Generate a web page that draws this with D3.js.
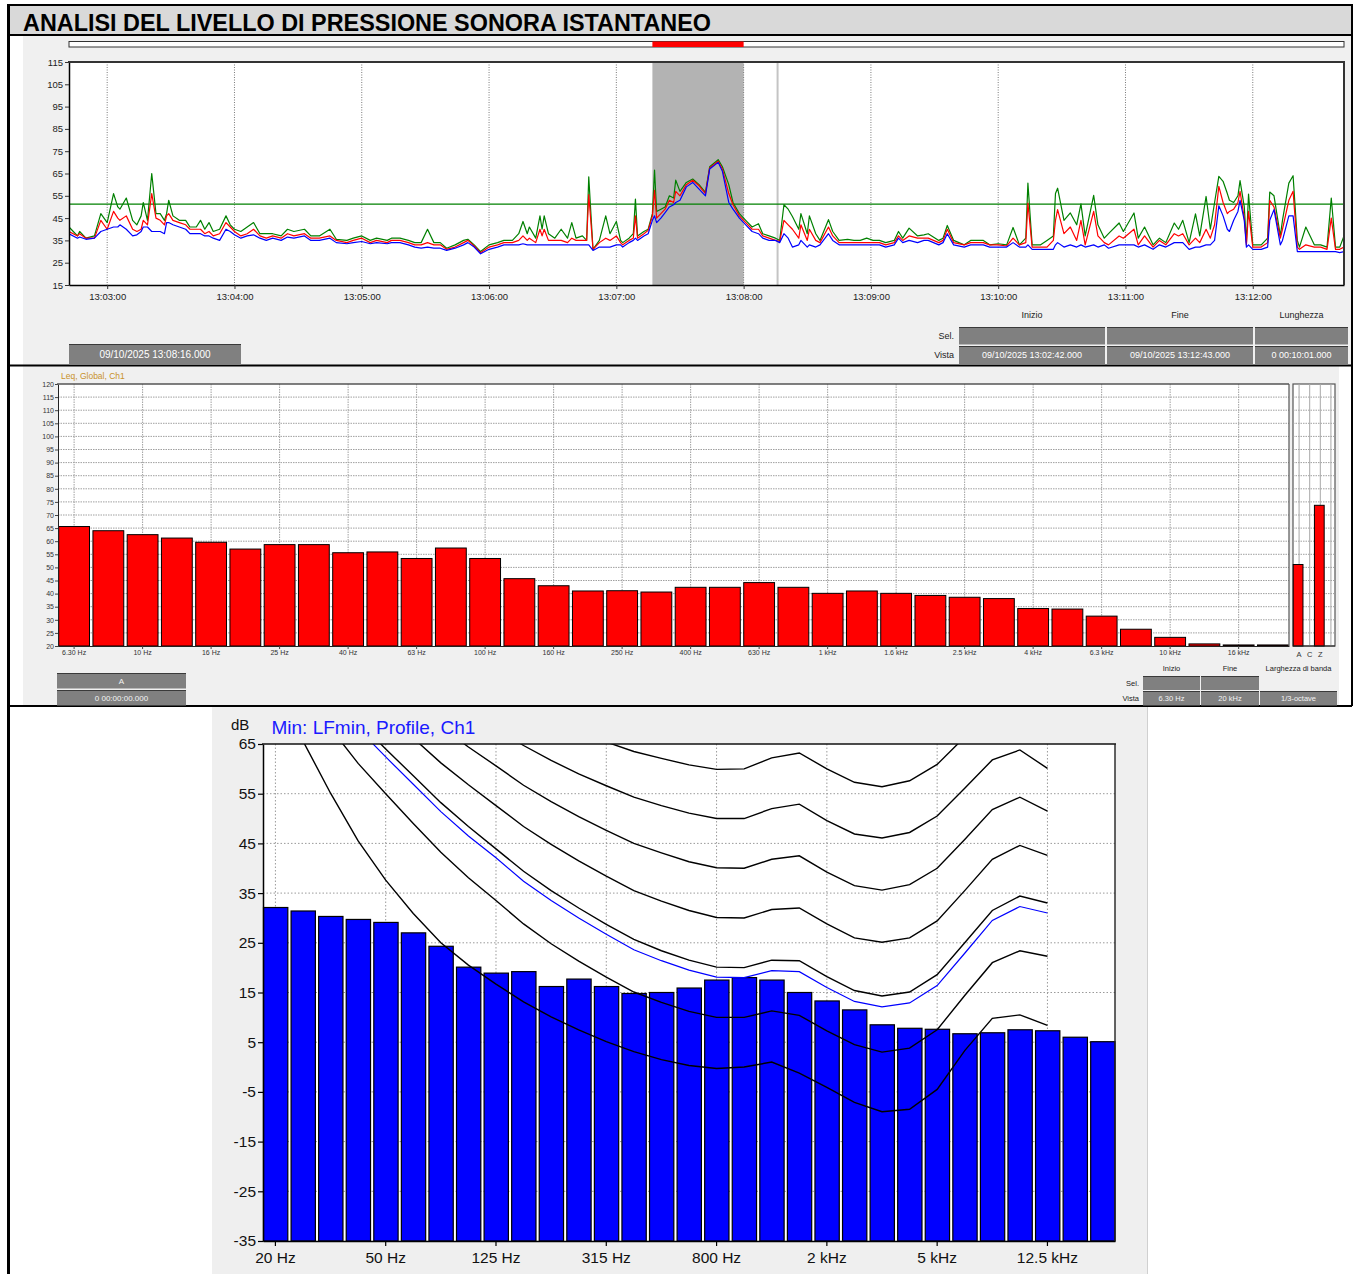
<!DOCTYPE html>
<html>
<head>
<meta charset="utf-8">
<script src="https://cdn.jsdelivr.net/npm/d3@7"></script>
<style>
  html, body { margin: 0; padding: 0; background: #ffffff; }
  svg { display: block; }
</style>
</head>
<body>
<svg id="chart" width="1356" height="1274"></svg>
<script>
// ===== Time history: seconds after 13:02:42, levels in dB =====
const measureDay = "09/10/2025";
const viewStart = "13:02:42";
const viewEnd = "13:12:43";
const seriesTime = [
  0,4,5,8,12,15,18,21,23,24,
  27,30,32,34,35,37,39,41,43,45,
  46,47,49,52,55,57,60,62,64,66,
  68,71,74,76,78,81,84,87,90,93,
  96,100,103,106,111,114,118,123,126,131,
  134,138,142,145,150,152,156,160,163,166,
  169,172,175,178,182,186,188,191,194,198,
  202,205,209,212,214,216,217,220,222,223,
  224,226,229,232,235,237,239,242,244,245,
  247,250,253,255,258,260,261,264,266,267,
  268,271,273,275,276,277,279,281,283,285,
  286,288,291,294,297,300,302,306,308,311,
  313,316,319,322,325,327,330,333,335,337,
  339,341,344,345,348,349,352,354,358,360,
  363,367,370,373,376,379,382,385,389,391,
  393,396,400,403,405,410,412,414,417,422,
  425,428,431,434,438,442,445,448,451,452,
  454,458,461,464,465,466,469,472,475,477,
  479,483,485,488,490,495,497,502,504,507,
  511,514,517,521,523,525,528,531,533,536,
  538,540,542,544,546,547,549,551,552,554,
  555,556,558,562,565,566,568,571,572,575,
  577,579,580,583,587,590,593,595,597,599,
  601
];
const lafMax = [
  41,37,39,36,37,47,43,56,50,49,
  54,44,42,46,52,44,65,47,47,44,
  47,53,46,44,44,41,41,44,40,43,
  39,40,46,42,40,39,41,43,38,38,
  38,37,40,39,40,37,37,40,35.5,35,
  36,37,35,36,35,36,36,35,34,34,
  40,34,34,31.5,33,35,35.5,33,30,33,
  34,35,35,38,43.5,38,41,36,46,40,
  46,38,36,40,36,43,36,37,35,63.5,
  31,35,46,38,43.5,35,34,36,38,53.5,
  37,39,40,47,66.5,48,49,50,55,54,
  62,57,61,62.5,60,56.5,68,71.2,68,60,
  52,47,44,41,42.5,38,37,36,35,51,
  49,45.7,40,47,38,46,38,35,44.3,39,
  35,35.5,35,35,36,35,35,34,35,39,
  36,40.5,37,37.5,38,35,36,41.7,35,33,
  35,35,35,33,33.5,33,40.8,33,36,60.7,
  33,33,35,37,56,58.4,44,47.3,42,51.4,
  37,55.2,42,36,38,42.8,39,47.3,36,41,
  33,36,34,42.8,40,44,34,46.9,37,54.7,
  40,52,63.7,61.5,56,53,52,55,61.8,50,
  34,55.8,33,33,36,56.7,55,37,44,60.7,
  64,35,32,41,33,33,32,54,32,32,
  37
];
const laeq = [
  39,37,38,36,36,44,40,48,45,44,
  46,40,39,40,44,42,56,45,44,42,
  46,47,44,43,42,40,40,40,38,39,
  37,38,43,41,39,37,38,40,37,36,
  37,36,38,37,38,36,36,37,35,34,
  35,36,34,35,34,35,35,34,33,33,
  34,33,33,31,32,34,35,32.5,29.5,32,
  33,34,34,35,37,35,36,34,40,37,
  40,35,35,35,34,36,35,35,35,55.5,
  31,34,36,35,37,34,33,35,36,46,
  36,38,39.5,46,57.5,45,47,49,53,52,
  57,55,60,62,59.5,56,67.5,70.5,67,56,
  51,46,43,40,40,37,36,35,34.5,44,
  42,40,36,42,35,40,35,34,41,37,
  34,34,34,34,34,34,34,33,34,37,
  35,37,36,36,36,34,35,40,34,33,
  34,34,34,33,33,32.5,36,33,34,51.7,
  32,32,32,35,44,48.8,38,41,35,44,
  33,48,37,34,33,37,36,40,33,37,
  32,35,33,38,37,38,33,36,34,40,
  36,42,59.2,52,47,48,49,52,57,45,
  33,48,32,32,34,53,50,36,40,53,
  57,32,31,33,32,32,31,45,31,31,
  32
];
const lafMin = [
  38,36,36.5,35.5,36,39,40,41,41,42,
  40,37,37.5,39,41,41,39,39,39,38,
  43,43,42,41,40,38,38,38,37,37,
  36,35,40,39,37.5,36,37,37.5,36,35,
  36,35,36.5,36,37,35,35,36,34,33.5,
  34,34.5,33.5,34,33.5,34,34,33,32,31.5,
  32,31.5,31.5,30.5,31.5,33,34,32,29,31,
  32,33,33,33,33.5,33,33,33,33,33,
  33,33,33,33,33,33,33,33,33,33,
  30.5,32,32,32,33,33,32,34,35,36,
  35,37,38,44,46,43,45,47.5,50,51,
  52,53,59,61,58,55,67,70,66,52,
  49,45,42,39,38,36,35,35,34,38,
  36,32,33,35,32,33,32,33,38,35,
  33,33,33,33,33,33,33,32,33,36,
  34,35,34,35,35,33,34,38,33,32,
  33,33,33,32,32,32,34,32,32,33,
  31,31,31,31,33,34,32,33,32,33,
  32,33,32,33,31.5,33,33,33,32,33,
  31,33,32,34,34,34,31,32,32,33,
  33,35,50.5,46,40,39,44,48,53,44,
  32,33,31,31,32,44,48.8,33,35,46,
  46,30,30,30,30,30,30,30,30,29.5,
  30
];
const leqReference = 51.3;
const timeTicks = ["13:03:00","13:04:00","13:05:00","13:06:00","13:07:00",
                   "13:08:00","13:09:00","13:10:00","13:11:00","13:12:00"];
const historyLevelTicks = [15,25,35,45,55,65,75,85,95,105,115];
const selectionRange = ["13:07:17","13:08:00"];
const cursorTime = "13:08:16";
const infoHeaders = ["Inizio","Fine","Lunghezza"];
const infoView = ["09/10/2025 13:02:42.000","09/10/2025 13:12:43.000","0 00:10:01.000"];
const cursorLabel = "09/10/2025 13:08:16.000";

// ===== 1/3-octave Leq spectrum =====
const leqBands = ["6.30 Hz","8 Hz","10 Hz","12.5 Hz","16 Hz","20 Hz","25 Hz","31.5 Hz","40 Hz",
  "50 Hz","63 Hz","80 Hz","100 Hz","125 Hz","160 Hz","200 Hz","250 Hz","315 Hz","400 Hz",
  "500 Hz","630 Hz","800 Hz","1 kHz","1.25 kHz","1.6 kHz","2 kHz","2.5 kHz","3.15 kHz",
  "4 kHz","5 kHz","6.3 kHz","8 kHz","10 kHz","12.5 kHz","16 kHz","20 kHz"];
const leqValues = [65.6,64.0,62.5,61.2,59.6,57.0,58.7,58.7,55.6,55.9,53.4,57.4,
  53.4,45.7,43.0,41.0,41.1,40.6,42.4,42.4,44.2,42.4,40.1,41.0,40.1,39.3,38.6,38.1,
  34.3,34.1,31.4,26.4,23.3,20.8,20.4,20.4];
const leqBandLabels = ["6.30 Hz","10 Hz","16 Hz","25 Hz","40 Hz","63 Hz","100 Hz","160 Hz",
  "250 Hz","400 Hz","630 Hz","1 kHz","1.6 kHz","2.5 kHz","4 kHz","6.3 kHz","10 kHz","16 kHz"];
const broadbandWeights = ["A","C","Z",""];
const broadbandValues = [51.1, null, 73.7, null];
const spectrumTicks = [20,25,30,35,40,45,50,55,60,65,70,75,80,85,90,95,100,105,110,115,120];
const spectrumHeaders = ["Inizio","Fine","Larghezza di banda"];
const spectrumView = ["6.30 Hz","20 kHz","1/3-octave"];

// ===== LFmin profile with equal-loudness contours =====
const profileBands = ["20 Hz","25 Hz","31.5 Hz","40 Hz","50 Hz","63 Hz","80 Hz","100 Hz",
  "125 Hz","160 Hz","200 Hz","250 Hz","315 Hz","400 Hz","500 Hz","630 Hz","800 Hz","1 kHz",
  "1.25 kHz","1.6 kHz","2 kHz","2.5 kHz","3.15 kHz","4 kHz","5 kHz","6.3 kHz","8 kHz",
  "10 kHz","12.5 kHz","16 kHz","20 kHz"];
const profileMin = [32.1,31.4,30.3,29.7,29.1,27.0,24.3,20.1,18.9,19.2,16.2,17.7,16.2,
  14.8,15.0,15.9,17.5,18.0,17.5,15.0,13.3,11.5,8.5,7.8,7.6,6.7,6.9,7.5,7.3,6.0,5.1];
const profileTickBands = ["20 Hz","50 Hz","125 Hz","315 Hz","800 Hz","2 kHz","5 kHz","12.5 kHz"];
const profileLevelTicks = [65,55,45,35,25,15,5,-5,-15,-25,-35];
// contours, 20 Hz .. 12.5 kHz (dB SPL)
const contourPhon0  = [76.6,65.6,55.1,45.5,37.6,30.9,25.0,20.5,16.7,13.1,10.1,7.5,5.1,3.1,1.5,0.3,-0.3,0.0,1.0,-1.2,-4.1,-7.1,-9.0,-8.5,-4.5,3.3,9.8,10.5,8.4];
const contourPhon10 = [83.8,75.8,68.2,61.1,55.0,49.0,43.2,38.1,33.5,28.8,24.8,21.3,18.1,15.1,13.0,11.2,10.0,10.0,11.3,10.4,7.3,4.5,3.0,3.8,7.5,14.4,21.0,23.4,22.3];
const contourPhon20 = [89.6,82.7,76.0,69.6,64.0,58.6,53.2,48.4,43.9,39.4,35.5,32.0,28.7,25.7,23.4,21.5,20.1,20.0,21.5,21.4,18.2,15.4,14.3,15.1,18.6,25.0,31.5,34.4,33.0];
const contourPhon30 = [94.9,88.5,82.4,76.5,71.3,66.2,61.2,56.8,52.6,48.4,44.8,41.5,38.4,35.5,33.4,31.5,30.1,30.0,31.7,32.0,28.8,26.0,25.1,26.0,29.4,35.5,41.8,44.6,42.6];
const contourPhon40 = [99.9,93.9,88.2,82.6,77.8,73.1,68.5,64.4,60.6,56.7,53.4,50.4,47.6,45.0,43.1,41.3,40.1,40.0,41.8,42.5,39.2,36.5,35.6,36.7,40.0,45.8,51.8,54.3,51.5];
const contourPhon50 = [104.7,99.1,93.7,88.5,84.0,79.6,75.4,71.6,68.2,64.7,61.7,59.0,56.6,54.3,52.6,51.1,50.0,50.0,52.0,52.9,49.6,46.9,46.1,47.2,50.5,56.1,61.8,63.8,60.1];
const contourPhon60 = [109.5,104.2,99.1,94.2,90.0,85.9,82.1,78.7,75.6,72.5,69.9,67.5,65.4,63.5,62.1,60.8,59.9,60.0,62.2,63.2,60.0,57.3,56.4,57.6,60.9,66.4,71.7,73.2,68.6];
const profileContour = [88.5,81.4,74.6,68.1,62.4,56.9,51.4,46.5,42.1,37.4,33.5,30.0,26.7,23.6,21.4,19.5,18.1,18.0,19.4,19.2,16.0,13.2,12.1,12.9,16.4,22.9,29.5,32.3,31.0];

// ===== drawing =====
const sans = "'Liberation Sans', Arial, Helvetica, sans-serif";
const narrow = "'Liberation Sans Narrow', 'Arial Narrow', 'Liberation Sans', Arial, sans-serif";
const svg = d3.select("#chart").attr("font-family", sans);
const plainNumber = d => String(d);

svg.append("rect").attr("width", 1356).attr("height", 1274).attr("fill", "#ffffff");

// panel backgrounds
svg.append("rect").attr("x", 8).attr("y", 5).attr("width", 1344).attr("height", 30).attr("fill", "#d9d9d9");
svg.append("rect").attr("x", 23).attr("y", 36).attr("width", 1328).attr("height", 329).attr("fill", "#f0f0f0");
svg.append("rect").attr("x", 23).attr("y", 366).attr("width", 1316).attr("height", 340).attr("fill", "#f0f0f0");
svg.append("rect").attr("x", 212).attr("y", 707).attr("width", 935).attr("height", 567).attr("fill", "#efefef");
svg.append("line").attr("x1", 1147.5).attr("x2", 1147.5).attr("y1", 707).attr("y2", 1274)
  .attr("stroke", "#d0d0d0");

// frame
const frame = svg.append("g").attr("stroke", "#000").attr("fill", "none");
[[8, 5, 1352, 5, 2], [8, 35, 1352, 35, 2], [8, 365.5, 1352, 365.5, 2], [8, 706, 1352, 706, 2],
 [8.5, 4, 8.5, 1274, 3], [1352, 4, 1352, 706, 2]].forEach(l => {
  frame.append("line").attr("x1", l[0]).attr("y1", l[1]).attr("x2", l[2]).attr("y2", l[3])
    .attr("stroke-width", l[4]);
});

svg.append("text").attr("x", 23).attr("y", 30.5)
  .attr("font-size", 24).attr("font-weight", "bold").attr("fill", "#000")
  .attr("textLength", 688).attr("lengthAdjust", "spacingAndGlyphs")
  .text("ANALISI DEL LIVELLO DI PRESSIONE SONORA ISTANTANEO");

// ---------- time history ----------
const parseClock = d3.timeParse("%d/%m/%Y %H:%M:%S");
const clock = s => parseClock(measureDay + " " + s);
const t0 = clock(viewStart), t1 = clock(viewEnd);
const atSec = s => new Date(t0.getTime() + s * 1000);

const xT = d3.scaleTime().domain([t0, t1]).range([69, 1344]);
const yT = d3.scaleLinear().domain([15, 115]).range([285, 62]);
const hist = svg.append("g");

// overview strip
hist.append("rect").attr("x", 69).attr("y", 41.5).attr("width", 1275).attr("height", 5.5)
  .attr("fill", "#fff").attr("stroke", "#333").attr("stroke-width", 1);
hist.append("rect").attr("x", xT(clock(selectionRange[0]))).attr("y", 41.5)
  .attr("width", xT(clock(selectionRange[1])) - xT(clock(selectionRange[0]))).attr("height", 5.5)
  .attr("fill", "#ff0000");

hist.append("rect").attr("x", 69).attr("y", 62).attr("width", 1275).attr("height", 223).attr("fill", "#fff");
hist.append("rect").attr("x", xT(clock(selectionRange[0]))).attr("y", 62)
  .attr("width", xT(clock(selectionRange[1])) - xT(clock(selectionRange[0]))).attr("height", 223)
  .attr("fill", "#b3b3b3");

const tickDates = timeTicks.map(clock);
hist.append("g").selectAll("line").data(tickDates).join("line")
  .attr("x1", d => xT(d)).attr("x2", d => xT(d)).attr("y1", 62).attr("y2", 285)
  .attr("stroke", "#7a7a7a").attr("stroke-dasharray", "1,1.5");

hist.append("line").attr("x1", xT(clock(cursorTime))).attr("x2", xT(clock(cursorTime)))
  .attr("y1", 62).attr("y2", 285).attr("stroke", "#c4c4c4").attr("stroke-width", 2);

hist.append("clipPath").attr("id", "histClip").append("rect")
  .attr("x", 69).attr("y", 62).attr("width", 1275).attr("height", 223);

hist.append("line").attr("x1", 69).attr("x2", 1344).attr("y1", yT(leqReference)).attr("y2", yT(leqReference))
  .attr("stroke", "#008000").attr("stroke-width", 1.3);

const n = Math.min(seriesTime.length, lafMax.length, laeq.length, lafMin.length);
const idx = d3.range(n);
const lineOf = arr => d3.line().x(i => xT(atSec(seriesTime[i]))).y(i => yT(arr[i]));
[[lafMax, "#008000"], [laeq, "#ff0000"], [lafMin, "#0000ff"]].forEach(([arr, col]) => {
  hist.append("path").datum(idx).attr("clip-path", "url(#histClip)")
    .attr("d", lineOf(arr)).attr("fill", "none").attr("stroke", col)
    .attr("stroke-width", 1.2).attr("stroke-linejoin", "round");
});

const axL = hist.append("g").attr("transform", "translate(69,0)")
  .call(d3.axisLeft(yT).tickValues(historyLevelTicks).tickFormat(plainNumber)
    .tickSize(4).tickSizeOuter(0).tickPadding(2));
const axB = hist.append("g").attr("transform", "translate(0,285)")
  .call(d3.axisBottom(xT).tickValues(tickDates).tickFormat(d3.timeFormat("%H:%M:%S"))
    .tickSize(4).tickSizeOuter(0).tickPadding(4));
[axL, axB].forEach(a => {
  a.attr("font-family", sans).attr("font-size", 9.5);
  a.selectAll("text").attr("fill", "#222");
  a.select(".domain").attr("stroke", "#000").attr("stroke-width", 1.5);
  a.selectAll(".tick line").attr("stroke", "#333");
});
hist.append("line").attr("x1", 68).attr("x2", 1345).attr("y1", 62).attr("y2", 62)
  .attr("stroke", "#333").attr("stroke-width", 2);
hist.append("line").attr("x1", 1344).attr("x2", 1344).attr("y1", 62).attr("y2", 285)
  .attr("stroke", "#333").attr("stroke-width", 2);

// info boxes under the time history
const infoCols = [[959, 1105], [1107, 1253], [1255, 1348]];
infoHeaders.forEach((h, i) => {
  hist.append("text").attr("x", (infoCols[i][0] + infoCols[i][1]) / 2).attr("y", 318)
    .attr("text-anchor", "middle").attr("font-family", narrow).attr("font-size", 9).attr("fill", "#222").text(h);
});
[["Sel.", 327, 344.5], ["Vista", 346, 364.5]].forEach(([lab, y0, y1], r) => {
  hist.append("text").attr("x", 954).attr("y", (y0 + y1) / 2 + 3).attr("text-anchor", "end")
    .attr("font-family", narrow).attr("font-size", 9).attr("fill", "#222").text(lab);
  infoCols.forEach((c, i) => {
    hist.append("rect").attr("x", c[0]).attr("y", y0).attr("width", c[1] - c[0]).attr("height", y1 - y0)
      .attr("fill", "#808080");
    hist.append("line").attr("x1", c[0]).attr("x2", c[1]).attr("y1", y0 + 0.5).attr("y2", y0 + 0.5)
      .attr("stroke", "#3a3a3a");
    if (r === 1) {
      hist.append("text").attr("x", (c[0] + c[1]) / 2).attr("y", (y0 + y1) / 2 + 3.2)
        .attr("text-anchor", "middle").attr("font-family", narrow).attr("font-size", 9)
        .attr("fill", "#fff").text(infoView[i]);
    }
  });
});
hist.append("rect").attr("x", 69).attr("y", 344).attr("width", 172).attr("height", 21).attr("fill", "#808080");
hist.append("line").attr("x1", 69).attr("x2", 241).attr("y1", 344.5).attr("y2", 344.5).attr("stroke", "#3a3a3a");
hist.append("text").attr("x", 155).attr("y", 358).attr("text-anchor", "middle")
  .attr("font-family", narrow).attr("font-size", 10).attr("fill", "#fff").text(cursorLabel);

// ---------- Leq spectrum ----------
const xS = d3.scaleBand().domain(leqBands).range([58, 1289]).paddingInner(0.1).paddingOuter(0.02);
const yS = d3.scaleLinear().domain([20, 120]).range([646, 384]);
const spec = svg.append("g");
spec.append("text").attr("x", 61).attr("y", 378.5).attr("font-size", 8.5).attr("fill", "#c8902a")
  .text("Leq, Global, Ch1");
spec.append("rect").attr("x", 58).attr("y", 384).attr("width", 1231).attr("height", 262).attr("fill", "#fff");
spec.append("g").selectAll("line").data(spectrumTicks.filter(v => v > 20 && v < 120)).join("line")
  .attr("x1", 58).attr("x2", 1289).attr("y1", d => yS(d)).attr("y2", d => yS(d))
  .attr("stroke", "#a0a0a0").attr("stroke-dasharray", "1.5,1");
spec.append("g").selectAll("line").data(leqBandLabels).join("line")
  .attr("x1", d => xS(d) + xS.bandwidth() / 2).attr("x2", d => xS(d) + xS.bandwidth() / 2)
  .attr("y1", 384).attr("y2", 646).attr("stroke", "#a0a0a0").attr("stroke-dasharray", "1.5,1");
spec.append("g").selectAll("rect").data(leqBands).join("rect")
  .attr("x", d => xS(d)).attr("width", xS.bandwidth())
  .attr("y", (d, i) => yS(leqValues[i])).attr("height", (d, i) => yS(20) - yS(leqValues[i]))
  .attr("fill", "#ff0000").attr("stroke", "#000").attr("stroke-width", 1);

const sAxL = spec.append("g").attr("transform", "translate(58,0)")
  .call(d3.axisLeft(yS).tickValues(spectrumTicks).tickFormat(plainNumber)
    .tickSize(3).tickSizeOuter(0).tickPadding(1));
const sAxB = spec.append("g").attr("transform", "translate(0,646)")
  .call(d3.axisBottom(xS).tickValues(leqBandLabels).tickSize(3).tickSizeOuter(0).tickPadding(1));
[sAxL, sAxB].forEach(a => {
  a.attr("font-family", sans).attr("font-size", 7);
  a.selectAll("text").attr("fill", "#333");
  a.select(".domain").attr("stroke", "#222");
  a.selectAll(".tick line").attr("stroke", "#444");
});
spec.append("line").attr("x1", 57).attr("x2", 1289).attr("y1", 384).attr("y2", 384)
  .attr("stroke", "#555").attr("stroke-width", 1.5);
spec.append("line").attr("x1", 1289).attr("x2", 1289).attr("y1", 384).attr("y2", 646)
  .attr("stroke", "#555").attr("stroke-width", 1.2);

// broadband columns
const xW = d3.scaleBand().domain(broadbandWeights).range([1293, 1335]).paddingInner(0.08).paddingOuter(0.02);
spec.append("rect").attr("x", 1293).attr("y", 384).attr("width", 42).attr("height", 262)
  .attr("fill", "#fff").attr("stroke", "#555").attr("stroke-width", 1.2);
spec.append("g").selectAll("line").data(spectrumTicks.filter(v => v > 20 && v < 120)).join("line")
  .attr("x1", 1293).attr("x2", 1335).attr("y1", d => yS(d)).attr("y2", d => yS(d))
  .attr("stroke", "#a0a0a0").attr("stroke-dasharray", "1.5,1");
spec.append("g").selectAll("line").data(broadbandWeights).join("line")
  .attr("x1", d => xW(d) + xW.bandwidth() / 2 + 1).attr("x2", d => xW(d) + xW.bandwidth() / 2 + 1)
  .attr("y1", 384).attr("y2", 646).attr("stroke", "#a8a8a8");
spec.append("g").selectAll("rect").data(broadbandWeights.filter((w, i) => broadbandValues[i] != null)).join("rect")
  .attr("x", d => xW(d)).attr("width", xW.bandwidth())
  .attr("y", d => yS(broadbandValues[broadbandWeights.indexOf(d)]))
  .attr("height", d => yS(20) - yS(broadbandValues[broadbandWeights.indexOf(d)]))
  .attr("fill", "#ff0000").attr("stroke", "#000").attr("stroke-width", 1);
spec.append("line").attr("x1", 1293).attr("x2", 1335).attr("y1", 646).attr("y2", 646).attr("stroke", "#222");
spec.append("g").selectAll("text").data(broadbandWeights).join("text")
  .attr("x", d => xW(d) + xW.bandwidth() / 2 + 1).attr("y", 657)
  .attr("text-anchor", "middle").attr("font-size", 7.5).attr("fill", "#333").text(d => d);

// spectrum info boxes
const specCols = [[1143, 1200], [1201, 1259], [1260, 1337]];
spectrumHeaders.forEach((h, i) => {
  spec.append("text").attr("x", (specCols[i][0] + specCols[i][1]) / 2).attr("y", 671)
    .attr("text-anchor", "middle").attr("font-family", narrow).attr("font-size", 7.5).attr("fill", "#222").text(h);
});
[["Sel.", 676, 690, 2], ["Vista", 691, 705.5, 3]].forEach(([lab, y0, y1, cols], r) => {
  spec.append("text").attr("x", 1139).attr("y", (y0 + y1) / 2 + 2.7).attr("text-anchor", "end")
    .attr("font-family", narrow).attr("font-size", 7.5).attr("fill", "#222").text(lab);
  specCols.slice(0, cols).forEach((c, i) => {
    spec.append("rect").attr("x", c[0]).attr("y", y0).attr("width", c[1] - c[0]).attr("height", y1 - y0)
      .attr("fill", "#808080");
    spec.append("line").attr("x1", c[0]).attr("x2", c[1]).attr("y1", y0 + 0.5).attr("y2", y0 + 0.5)
      .attr("stroke", "#3a3a3a");
    if (r === 1) {
      spec.append("text").attr("x", (c[0] + c[1]) / 2).attr("y", (y0 + y1) / 2 + 2.7)
        .attr("text-anchor", "middle").attr("font-family", narrow).attr("font-size", 7.5)
        .attr("fill", "#f4f4f4").text(spectrumView[i]);
    }
  });
});
[["A", 673, 688.5], ["0 00:00:00.000", 690, 705.5]].forEach(([lab, y0, y1]) => {
  spec.append("rect").attr("x", 57).attr("y", y0).attr("width", 129).attr("height", y1 - y0).attr("fill", "#808080");
  spec.append("line").attr("x1", 57).attr("x2", 186).attr("y1", y0 + 0.5).attr("y2", y0 + 0.5).attr("stroke", "#3a3a3a");
  spec.append("text").attr("x", 121.5).attr("y", (y0 + y1) / 2 + 3).attr("text-anchor", "middle")
    .attr("font-size", 8).attr("fill", "#f4f4f4").text(lab);
});

// ---------- LFmin profile ----------
const xP = d3.scaleBand().domain(profileBands).range([263, 1115]).paddingInner(0.1).paddingOuter(0);
const yP = d3.scaleLinear().domain([-35, 65]).range([1241, 744]);
const prof = svg.append("g");
prof.append("text").attr("x", 231).attr("y", 729.5).attr("font-size", 15).attr("fill", "#111").text("dB");
prof.append("text").attr("x", 271.5).attr("y", 734).attr("font-size", 19).attr("fill", "#1a1aff")
  .text("Min: LFmin, Profile, Ch1");
prof.append("rect").attr("x", 263).attr("y", 744).attr("width", 852).attr("height", 497).attr("fill", "#fff");
prof.append("clipPath").attr("id", "profClip").append("rect")
  .attr("x", 263).attr("y", 744).attr("width", 852).attr("height", 497);

const bandMid = b => xP(b) + xP.bandwidth() / 2;
prof.append("g").selectAll("line").data(profileLevelTicks.filter(v => v > -35 && v < 65)).join("line")
  .attr("x1", 263).attr("x2", 1115).attr("y1", d => yP(d)).attr("y2", d => yP(d))
  .attr("stroke", "#9a9a9a").attr("stroke-dasharray", "1.5,2");
prof.append("g").selectAll("line").data(profileTickBands).join("line")
  .attr("x1", d => bandMid(d)).attr("x2", d => bandMid(d)).attr("y1", 744).attr("y2", 1241)
  .attr("stroke", "#9a9a9a").attr("stroke-dasharray", "1.5,2");

prof.append("g").selectAll("rect").data(profileBands).join("rect")
  .attr("x", d => xP(d) + 0.5).attr("width", xP.bandwidth() - 0.5)
  .attr("y", (d, i) => yP(profileMin[i])).attr("height", (d, i) => yP(-35) - yP(profileMin[i]))
  .attr("fill", "#0000ff").attr("stroke", "#000").attr("stroke-width", 1.2);

const contourLine = d3.line().x((v, i) => bandMid(profileBands[i])).y(v => yP(v));
const contourGroup = prof.append("g").attr("clip-path", "url(#profClip)").attr("fill", "none");
[contourPhon0, contourPhon10, contourPhon20, contourPhon30, contourPhon40, contourPhon50, contourPhon60]
  .forEach(c => {
    contourGroup.append("path").attr("d", contourLine(c)).attr("stroke", "#000").attr("stroke-width", 1.4);
  });
contourGroup.append("path").attr("d", contourLine(profileContour)).attr("stroke", "#0000ff").attr("stroke-width", 1.2);

const pAxL = prof.append("g").attr("transform", "translate(263,0)")
  .call(d3.axisLeft(yP).tickValues(profileLevelTicks).tickFormat(plainNumber)
    .tickSize(5).tickSizeOuter(0).tickPadding(2));
const pAxB = prof.append("g").attr("transform", "translate(0,1241)")
  .call(d3.axisBottom(xP).tickValues(profileTickBands).tickSize(5).tickSizeOuter(0).tickPadding(6));
[pAxL, pAxB].forEach(a => {
  a.attr("font-family", sans).attr("font-size", 15.5);
  a.selectAll("text").attr("fill", "#111");
  a.select(".domain").attr("stroke", "#000").attr("stroke-width", 1.5);
  a.selectAll(".tick line").attr("stroke", "#000").attr("stroke-width", 1.2);
});
prof.append("line").attr("x1", 262).attr("x2", 1116).attr("y1", 744).attr("y2", 744)
  .attr("stroke", "#111").attr("stroke-width", 1.6);
prof.append("line").attr("x1", 1115).attr("x2", 1115).attr("y1", 744).attr("y2", 1241)
  .attr("stroke", "#222").attr("stroke-width", 1.4);
</script>
</body>
</html>
